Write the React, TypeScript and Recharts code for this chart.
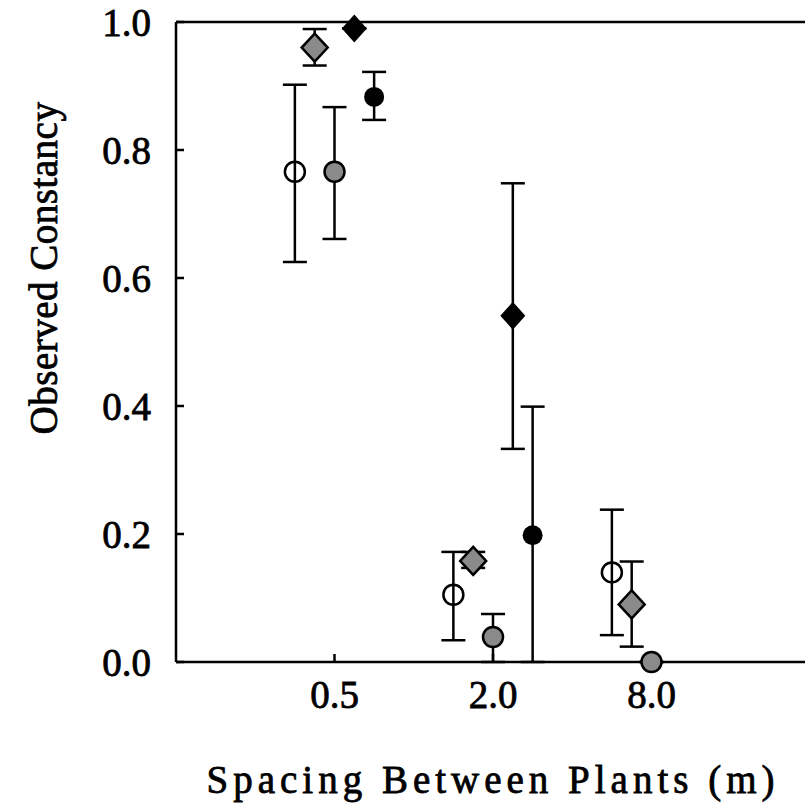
import { ScatterChart, Scatter, XAxis, YAxis, ErrorBar } from 'recharts'

// x categories (plant spacing, m) placed at 1, 2, 3 on a numeric axis
const SPACING_LABELS = ['0.5', '2.0', '8.0']
const SPACING_POS = [1, 2, 3]
const Y_TICKS = [0, 0.2, 0.4, 0.6, 0.8, 1.0]

// open circles
const OPEN_CIRCLE_MEAN = [0.766, 0.105, 0.14]
const OPEN_CIRCLE_LOW = [0.625, 0.034, 0.042]
const OPEN_CIRCLE_HIGH = [0.902, 0.172, 0.238]

// gray diamonds
const GRAY_DIAMOND_MEAN = [0.96, 0.158, 0.09]
const GRAY_DIAMOND_LOW = [0.932, 0.147, 0.024]
const GRAY_DIAMOND_HIGH = [0.989, 0.172, 0.157]

// gray circles
const GRAY_CIRCLE_MEAN = [0.766, 0.039, 0.0]
const GRAY_CIRCLE_LOW = [0.661, 0.0, 0.0]
const GRAY_CIRCLE_HIGH = [0.867, 0.075, 0.0]

// black diamonds (no 8.0 value)
const BLACK_DIAMOND_MEAN = [0.99, 0.541]
const BLACK_DIAMOND_LOW = [0.99, 0.333]
const BLACK_DIAMOND_HIGH = [0.99, 0.748]

// black circles (no 8.0 value)
const BLACK_CIRCLE_MEAN = [0.883, 0.198]
const BLACK_CIRCLE_LOW = [0.847, 0.0]
const BLACK_CIRCLE_HIGH = [0.922, 0.399]

const FONT = '"Liberation Serif", "Times New Roman", serif'
const GRAY = '#8a8a8a'

function toPoints(mean: number[], low: number[], high: number[], offset: number) {
  return mean.map((m, i) => ({
    x: SPACING_POS[i] + offset,
    y: m,
    err: [m - low[i], high[i] - m],
  }))
}

const openCircle = (p: any) => (
  <circle cx={p.cx} cy={p.cy} r={10} fill="none" stroke="#000" strokeWidth={2.5} />
)
const grayCircle = (p: any) => (
  <circle cx={p.cx} cy={p.cy} r={10} fill={GRAY} stroke="#000" strokeWidth={2.5} />
)
const blackCircle = (p: any) => <circle cx={p.cx} cy={p.cy} r={10} fill="#000" />
const grayDiamond = (p: any) => (
  <polygon
    points={`${p.cx},${p.cy - 14} ${p.cx + 13},${p.cy} ${p.cx},${p.cy + 14} ${p.cx - 13},${p.cy}`}
    fill={GRAY}
    stroke="#000"
    strokeWidth={2.5}
  />
)
const blackDiamond = (p: any) => (
  <polygon
    points={`${p.cx},${p.cy - 14} ${p.cx + 12.5},${p.cy} ${p.cx},${p.cy + 14} ${p.cx - 12.5},${p.cy}`}
    fill="#000"
  />
)

const SERIES = [
  { name: 'open circle', data: toPoints(OPEN_CIRCLE_MEAN, OPEN_CIRCLE_LOW, OPEN_CIRCLE_HIGH, -0.25), shape: openCircle },
  { name: 'gray diamond', data: toPoints(GRAY_DIAMOND_MEAN, GRAY_DIAMOND_LOW, GRAY_DIAMOND_HIGH, -0.125), shape: grayDiamond },
  { name: 'gray circle', data: toPoints(GRAY_CIRCLE_MEAN, GRAY_CIRCLE_LOW, GRAY_CIRCLE_HIGH, 0), shape: grayCircle },
  { name: 'black diamond', data: toPoints(BLACK_DIAMOND_MEAN, BLACK_DIAMOND_LOW, BLACK_DIAMOND_HIGH, 0.125), shape: blackDiamond },
  { name: 'black circle', data: toPoints(BLACK_CIRCLE_MEAN, BLACK_CIRCLE_LOW, BLACK_CIRCLE_HIGH, 0.25), shape: blackCircle },
]

const line = { stroke: '#000', strokeWidth: 2.5 }
// regular serif with a thin outline, to match the heavy scanned type
const textInk = { fill: '#000', stroke: '#000', strokeWidth: 0.8, fontFamily: FONT }
const tickFont = { ...textInk, fontSize: 39 }

export default function App() {
  return (
    <div style={{ position: 'absolute', left: 0, top: 0, width: 805, height: 803, overflow: 'hidden', background: '#fff' }}>
      <ScatterChart width={830} height={803} margin={{ top: 21, right: 19, bottom: 0, left: 0 }}>
        <XAxis
          xAxisId="bottom"
          dataKey="x"
          type="number"
          domain={[0, 4]}
          ticks={SPACING_POS}
          tickFormatter={(v: number) => SPACING_LABELS[SPACING_POS.indexOf(v)] ?? ''}
          height={141}
          axisLine={line}
          tickLine={line}
          tickSize={-8}
          tickMargin={26}
          tick={tickFont}
          label={{
            value: 'Spacing Between Plants (m)',
            position: 'insideBottom',
            offset: 10,
            style: { ...textInk, fontSize: 39, letterSpacing: 5 },
          }}
        />
        <XAxis
          xAxisId="top"
          orientation="top"
          dataKey="x"
          type="number"
          domain={[0, 4]}
          ticks={SPACING_POS}
          height={1}
          axisLine={line}
          tickLine={line}
          tickSize={-8}
          tick={false}
        />
        <YAxis
          yAxisId="left"
          dataKey="y"
          type="number"
          domain={[0, 1]}
          ticks={Y_TICKS}
          tickFormatter={(v: number) => v.toFixed(1)}
          width={176}
          axisLine={line}
          tickLine={line}
          tickSize={-8}
          tickMargin={33}
          tick={tickFont}
          label={{
            value: 'Observed Constancy',
            angle: -90,
            position: 'center',
            dx: -45,
            dy: -74,
            style: { ...textInk, fontSize: 39, letterSpacing: 0.5 },
          }}
        />
        <YAxis
          yAxisId="right"
          orientation="right"
          type="number"
          domain={[0, 1]}
          ticks={Y_TICKS}
          width={1}
          axisLine={line}
          tickLine={line}
          tickSize={-8}
          tick={false}
        />
        {SERIES.map((s) => (
          <Scatter
            key={s.name}
            name={s.name}
            data={s.data}
            xAxisId="bottom"
            yAxisId="left"
            shape={s.shape}
            isAnimationActive={false}
          >
            <ErrorBar dataKey="err" direction="y" width={12} stroke="#000" strokeWidth={2.5} isAnimationActive={false} />
          </Scatter>
        ))}
      </ScatterChart>
    </div>
  )
}
